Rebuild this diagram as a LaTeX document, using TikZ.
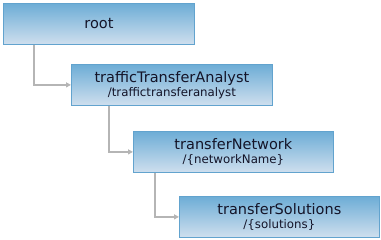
\documentclass[tikz,border=0pt]{standalone}
\usepackage{fontspec}
\setmainfont{DejaVu Sans}
\usetikzlibrary{arrows.meta}
\definecolor{boxtop}{HTML}{6DADD6}
\definecolor{boxbottom}{HTML}{CFDFEE}
\definecolor{boxline}{HTML}{62A3CE}
\definecolor{wire}{HTML}{B5B5B5}
\definecolor{ink}{HTML}{141428}
\tikzset{
  resbox/.style={draw=boxline, line width=0.8pt, top color=boxtop, bottom color=boxbottom, text=ink,
    minimum height=41pt, inner sep=0pt, align=center, anchor=north west, font=\fontsize{14.5}{14}\selectfont},
  wire/.style={draw=wire, line width=1.5pt, -{Triangle[length=5pt,width=5pt]}}
}
\newcommand{\subpath}[1]{\\{\fontsize{11.8}{14}\selectfont #1}}
\begin{document}
\begin{tikzpicture}[x=1pt, y=-1pt]
  \useasboundingbox (0,0) rectangle (381,240);
  % resource boxes
  \node[resbox, minimum width=191pt] (root) at (3,3) {root};
  \node[resbox, minimum width=201pt] (analyst) at (71,64) {trafficTransferAnalyst\subpath{/traffictransferanalyst}};
  \node[resbox, minimum width=200pt] (network) at (133,131) {transferNetwork\subpath{/\{networkName\}}};
  \node[resbox, minimum width=200pt] (solutions) at (179,196) {transferSolutions\subpath{/\{solutions\}}};
  % parent-child links
  \draw[wire] ([xshift=31pt]root.south west) |- (analyst.west);
  \draw[wire] ([xshift=38pt]analyst.south west) |- (network.west);
  \draw[wire] ([xshift=22pt]network.south west) |- (solutions.west);
\end{tikzpicture}
\end{document}
